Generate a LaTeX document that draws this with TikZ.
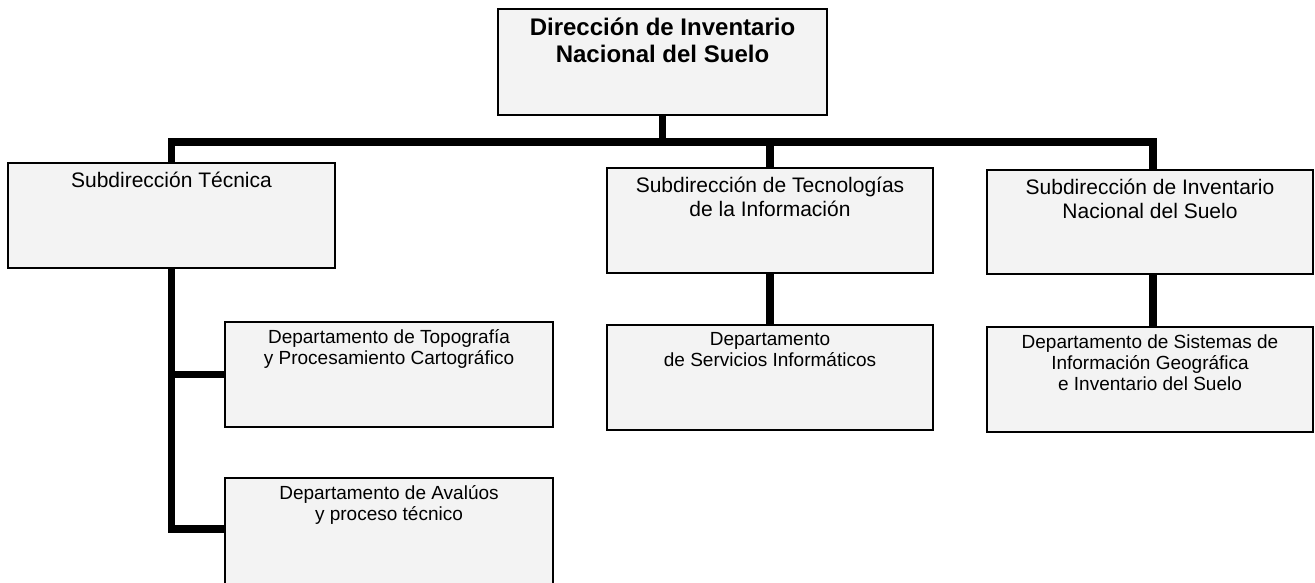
\documentclass[tikz,border=0pt]{standalone}
\usepackage{fontspec}
\setmainfont{Liberation Sans}
\usepackage{tikz}
\definecolor{colorcaja}{HTML}{F3F3F3}
\tikzset{
  unidad/.style={draw=black, line width=1.3pt, fill=colorcaja, minimum width=327pt, minimum height=105pt, inner sep=0pt},
  enlace/.style={black, line width=7.5pt, line join=miter},
  rotulo/.style={anchor=north, align=center, inner sep=0pt},
  rotulodir/.style={rotulo, font=\fontsize{24}{27}\selectfont\bfseries, yshift=-9pt},
  rotulosub/.style={rotulo, font=\fontsize{21}{24}\selectfont, yshift=-9pt},
  rotulodep/.style={rotulo, font=\fontsize{19}{21}\selectfont, yshift=-8pt}
}

\begin{document}
\begin{tikzpicture}[x=1pt, y=-1pt]
\useasboundingbox (0,0) rectangle (1315,582);
% direccion
\node[unidad, minimum width=329pt, minimum height=106pt,
  label={[rotulodir]north:{Dirección de Inventario\\Nacional del Suelo}}] (dir) at (662.5,62) {};
% subdirecciones
\node[unidad, label={[rotulosub]north:{Subdirección Técnica}}] (st) at (171.5,215.5) {};
\node[unidad, minimum width=326pt, label={[rotulosub]north:{Subdirección de Tecnologías\\de la Información}}] (sti) at (770,220.5) {};
\node[unidad, minimum width=326pt, minimum height=104pt, label={[rotulosub]north:{Subdirección de Inventario\\Nacional del Suelo}}] (sinv) at (1150,222) {};
% departamentos
\node[unidad, minimum width=328pt, label={[rotulodep]north:{Departamento de Topografía\\y Procesamiento Cartográfico}}] (dtopo) at (389,374.5) {};
\node[unidad, minimum width=328pt, minimum height=112pt, label={[rotulodep]north:{Departamento de Avalúos\\y proceso técnico}}] (daval) at (389,534) {};
\node[unidad, minimum width=326pt, label={[rotulodep]north:{Departamento\\de Servicios Informáticos}}] (dserv) at (770,377.5) {};
\node[unidad, minimum width=326pt, label={[rotulodep]north:{Departamento de Sistemas de\\Información Geográfica\\e Inventario del Suelo}}] (dsig) at (1150,379.5) {};

\coordinate (bus) at (0,142);
\draw[enlace] (dir.south) -- (dir.south |- bus);
\draw[enlace] (st.north) -- (st.north |- bus) -- ([xshift=3pt]sinv.north |- bus) -- ([xshift=3pt]sinv.north);
\draw[enlace] (sti.north |- bus) -- (sti.north);
\draw[enlace] (st.south) |- ([yshift=5pt]daval.west);
\draw[enlace] (st.south |- dtopo.west) -- (dtopo.west);
\draw[enlace] (sti) -- (dserv);
\draw[enlace] ([xshift=3pt]sinv.south) -- ([xshift=3pt]dsig.north);
\end{tikzpicture}
\end{document}
